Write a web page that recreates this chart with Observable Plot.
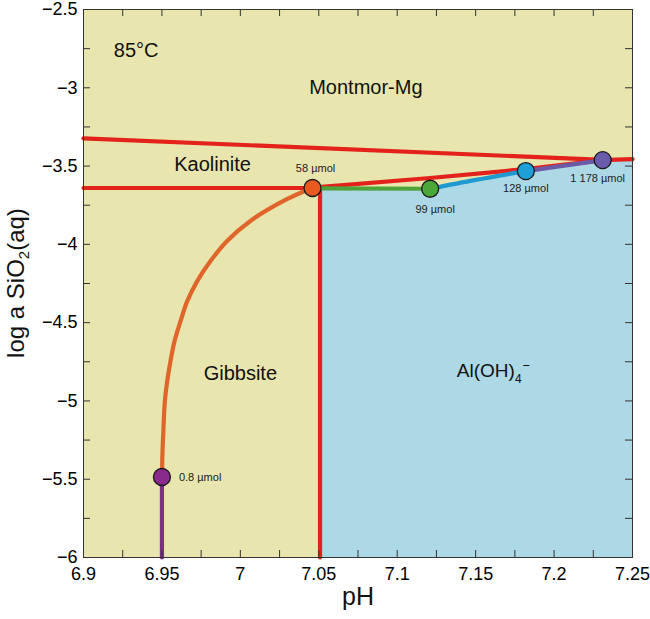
<!DOCTYPE html>
<html><head><meta charset="utf-8">
<script src="https://cdn.jsdelivr.net/npm/d3@7"></script>
<script src="https://cdn.jsdelivr.net/npm/@observablehq/plot@0.6"></script>
<style>body{margin:0;background:#fff}</style>
</head><body><div id="chart"></div>
<script>
// ---- tick values ----
const xTicks = [6.9, 6.95, 7, 7.05, 7.1, 7.15, 7.2, 7.25];
const xMinorTicks = [6.925, 6.95, 6.975, 7, 7.025, 7.05, 7.075, 7.1, 7.125, 7.15, 7.175, 7.2, 7.225];
const yTicks = [-2.5, -3, -3.5, -4, -4.5, -5, -5.5, -6];
const yMinorTicks = [-2.75, -3, -3.25, -3.5, -3.75, -4, -4.25, -4.5, -4.75, -5, -5.25, -5.5, -5.75];

// ---- stability field boundaries (red) ----
const montKaoPH = [6.9, 7.231];
const montKaoLogSi = [-3.323, -3.460];
const kaoGibPH = [6.9, 7.046];
const kaoGibLogSi = [-3.640, -3.640];
const kaoAlPH = [7.046, 7.121, 7.182, 7.231, 7.25];
const kaoAlLogSi = [-3.638, -3.576, -3.519, -3.462, -3.456];
const gibAlPH = [7.0508, 7.0508];
const gibAlLogSi = [-3.640, -6.0];

// ---- Al(OH)4- field top edge ----
const alFieldPH = [7.0508, 7.121, 7.150, 7.182, 7.231, 7.25];
const alFieldTopLogSi = [-3.645, -3.645, -3.588, -3.532, -3.462, -3.458];

// ---- reaction path segments ----
const pathPurplePH = [6.950, 6.950];
const pathPurpleLogSi = [-6.0, -5.484];
const pathOrangePH = [6.9502, 6.9502, 6.9509, 6.9519, 6.9534, 6.9555, 6.9581, 6.9619, 6.9662, 6.9726, 6.9811, 6.9917, 7.0066, 7.0278, 7.0455];
const pathOrangeLogSi = [-5.484, -5.384, -5.192, -5.000, -4.872, -4.744, -4.616, -4.489, -4.361, -4.233, -4.105, -3.977, -3.849, -3.721, -3.640];
const pathGreenPH = [7.046, 7.121];
const pathGreenLogSi = [-3.643, -3.645];
const pathCyanPH = [7.121, 7.150, 7.182];
const pathCyanLogSi = [-3.645, -3.588, -3.532];
const pathSlatePH = [7.182, 7.231];
const pathSlateLogSi = [-3.532, -3.462];

// ---- marked points ----
const pointNames = ["0.8 µmol", "58 µmol", "99 µmol", "128 µmol", "1 178 µmol"];
const pointPH = [6.950, 7.046, 7.121, 7.182, 7.231];
const pointLogSi = [-5.486, -3.640, -3.645, -3.532, -3.462];
const pointColors = ["#8a2a8c", "#e85a1f", "#4aa83a", "#1e9fd6", "#6a5aaa"];

// ---- field labels ----
const fieldNames = ["Montmor-Mg", "Kaolinite", "Gibbsite"];
const fieldPH = [7.08, 6.9823, 7.0];
const fieldLogSi = [-3.0, -3.489, -4.827];
const tempLabel = "85°C";
const tempPH = 6.9193, tempLogSi = -2.762;
const alLabelPH = 7.138, alLabelLogSi = -4.811;

const W = 650, H = 619, mL = 83, mR = 18, mT = 9, mB = 62;
const innerH = H - mT - mB, innerW = W - mL - mR;
const RED = "#e3221c";

const line = (xs, ys, stroke, extra = {}) =>
  Plot.line(xs.map((x, i) => ({x, y: ys[i]})), {x: "x", y: "y", stroke, strokeWidth: 4.2, ...extra});

const ptLabel = (i, opts) =>
  Plot.text([pointNames[i]], {x: [pointPH[i]], y: [pointLogSi[i]], text: d => d, fontSize: 11, fill: "#222", ...opts});

const alData = alFieldPH.map((x, i) => ({x, top: alFieldTopLogSi[i], bottom: yTicks[yTicks.length - 1]}));

const svg = Plot.plot({
  width: W, height: H,
  marginLeft: mL, marginRight: mR, marginTop: mT, marginBottom: mB,
  style: {fontFamily: "'Liberation Sans', Arial, sans-serif", background: "#fff", color: "#000"},
  x: {domain: [6.9, 7.25]},
  y: {domain: [-6, -2.5]},
  marks: [
    Plot.frame({fill: "#e8e5ae", stroke: null}),
    Plot.areaY(alData, {x: "x", y1: "bottom", y2: "top", fill: "#add8e6"}),
    line(gibAlPH, gibAlLogSi, RED),
    line(montKaoPH, montKaoLogSi, RED),
    line(kaoGibPH, kaoGibLogSi, RED),
    line(kaoAlPH, kaoAlLogSi, RED),
    line(pathPurplePH, pathPurpleLogSi, "#7a3282"),
    line(pathOrangePH, pathOrangeLogSi, "#e0652a", {curve: "catmull-rom"}),
    line(pathGreenPH, pathGreenLogSi, "#4ea33b"),
    line(pathCyanPH, pathCyanLogSi, "#1e9ad0", {curve: "catmull-rom"}),
    line(pathSlatePH, pathSlateLogSi, "#6b5aa6"),
    Plot.dot(pointNames, {x: pointPH, y: pointLogSi, fill: pointColors, r: 8.5, stroke: "#1a1a1a", strokeWidth: 1.3}),
    ptLabel(0, {textAnchor: "start", dx: 17, dy: 0}),
    ptLabel(1, {dx: 3, dy: -20}),
    ptLabel(2, {dx: 5, dy: 21}),
    ptLabel(3, {dx: 0, dy: 17}),
    ptLabel(4, {dx: -5, dy: 18}),
    Plot.text(fieldNames, {x: fieldPH, y: fieldLogSi, text: d => d, fontSize: 20, fill: "#111"}),
    Plot.text([tempLabel], {x: [tempPH], y: [tempLogSi], text: d => d, fontSize: 20, textAnchor: "start", fill: "#111"}),
    Plot.text(["Al(OH)"], {x: [alLabelPH], y: [alLabelLogSi], text: d => d, fontSize: 19, textAnchor: "start", fill: "#111"}),
    Plot.gridX(xMinorTicks, {insetTop: innerH - 7, stroke: "#333", strokeOpacity: 1}),
    Plot.gridX(xMinorTicks, {insetBottom: innerH - 7, stroke: "#333", strokeOpacity: 1}),
    Plot.gridY(yMinorTicks, {insetRight: innerW - 7, stroke: "#333", strokeOpacity: 1}),
    Plot.gridY(yMinorTicks, {insetLeft: innerW - 7, stroke: "#333", strokeOpacity: 1}),
    Plot.frame({stroke: "#333", strokeWidth: 1}),
    Plot.axisX(xTicks, {anchor: "bottom", tickSize: 0, tickPadding: 10, fontSize: 18, tickFormat: d => String(d), label: null}),
    Plot.axisY(yTicks, {anchor: "left", tickSize: 0, tickPadding: 6, fontSize: 18, tickFormat: d => String(d).replace("-", "\u2212"), label: null}),
    Plot.text(["pH"], {frameAnchor: "bottom", dy: 47, text: d => d, fontSize: 25, fill: "#111"})
  ]
});

// subscript / superscript for Al(OH)4-
d3.select(svg).selectAll("text").filter(function() { return this.textContent === "Al(OH)"; })
  .each(function() {
    const t = d3.select(this);
    t.append("tspan").attr("font-size", 12).attr("dy", 6).text("4");
    t.append("tspan").attr("font-size", 13).attr("dy", -13).attr("dx", 1).text("\u2212");
  });

// y axis title with subscript
const yl = d3.select(svg).append("text")
  .attr("transform", `translate(24,${mT + innerH / 2}) rotate(-90)`)
  .attr("text-anchor", "middle")
  .attr("font-size", 24)
  .attr("fill", "#111");
yl.append("tspan").text("log a SiO");
yl.append("tspan").attr("font-size", 15).attr("dy", 5).text("2");
yl.append("tspan").attr("dy", -5).text("(aq)");

document.getElementById("chart").appendChild(svg);
</script>
</body></html>
